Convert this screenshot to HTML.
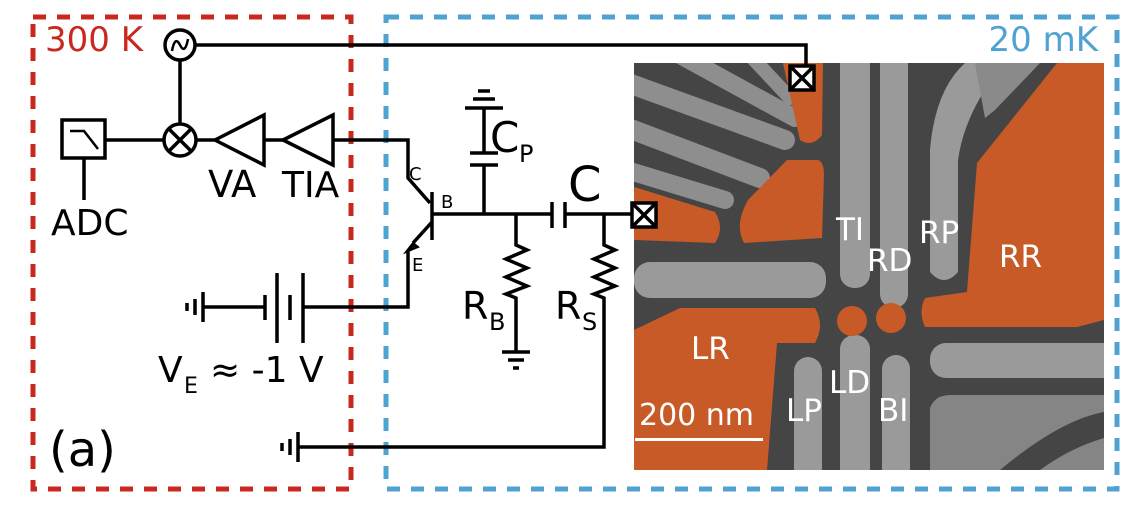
<!DOCTYPE html>
<html><head><meta charset="utf-8"><style>
html,body{margin:0;padding:0;background:#fff;}
svg{display:block;font-family:"DejaVu Sans","Liberation Sans",sans-serif;}
</style></head><body>
<svg width="1144" height="516" viewBox="0 0 1144 516" xmlns="http://www.w3.org/2000/svg">
<defs><clipPath id="sem"><rect x="634" y="63" width="470" height="407"/></clipPath></defs>
<g clip-path="url(#sem)">
<rect x="634" y="63" width="470" height="407" fill="#454545"/>
<g stroke="#8e8e8e" stroke-linecap="round" fill="none">
<path d="M620 80 L785 140" stroke-width="20"/>
<path d="M620 125 L760 178" stroke-width="20"/>
<path d="M620 168 L725 200" stroke-width="18"/>
<path d="M680 55 L795 118" stroke-width="18"/>
<path d="M745 50 L790 98" stroke-width="14"/>
</g>
<rect x="634" y="262" width="192" height="36" rx="16" fill="#9a9a9a"/>
<rect x="840" y="40" width="30" height="248" rx="14" fill="#9a9a9a"/>
<rect x="880" y="40" width="28" height="268" rx="14" fill="#9a9a9a"/>
<path d="M930 272 L930 150 Q935 90 965 63 L1005 63 Q965 110 958 160 L958 272 Q944 288 930 272 Z" fill="#9a9a9a"/>
<path d="M975 63 L1040 63 L995 110 L985 118 Z" fill="#8a8a8a"/>
<rect x="840" y="335" width="30" height="160" rx="14" fill="#9a9a9a"/>
<rect x="882" y="355" width="28" height="140" rx="14" fill="#9a9a9a"/>
<rect x="794" y="357" width="28" height="138" rx="14" fill="#9a9a9a"/>
<rect x="930" y="343" width="190" height="35" rx="16" fill="#9a9a9a"/>
<path d="M930 470 L930 408 Q935 395 950 395 L1104 395 L1104 470 Z" fill="#858585"/>
<path d="M1000 470 Q1060 420 1104 412 L1104 438 Q1070 448 1040 470 Z" fill="#454545"/>
<g fill="#c85a28">
<path d="M634 330 L680 308 L815 308 Q825 325 815 343 L777 343 L767 470 L634 470 Z"/>
<path d="M1057 63 L1104 63 L1104 320 L1077 327 L925 327 Q918 312 925 298 L967 292 L977 163 Z"/>
<path d="M748 200 L787 160 L818 160 Q824 162 824 175 L822 238 L744 243 Q734 225 748 200 Z"/>
<path d="M634 187 L715 212 Q725 228 715 243 L634 240 Z"/>
<path d="M783 63 L823 63 L822 135 Q812 148 800 140 Z"/>
<circle cx="852" cy="321" r="15"/>
<circle cx="891" cy="318" r="15"/>
</g>
</g>
<g fill="#fff" font-size="31">
<text x="836" y="240">TI</text>
<text x="867" y="271">RD</text>
<text x="919" y="243">RP</text>
<text x="999" y="267">RR</text>
<text x="691" y="359">LR</text>
<text x="829" y="393">LD</text>
<text x="786" y="421">LP</text>
<text x="878" y="421">BI</text>
<text x="639" y="425" font-size="30">200 nm</text>
</g>
<rect x="635" y="438" width="128" height="3" fill="#fff"/>

<rect x="33" y="17" width="318" height="472" fill="none" stroke="#c8281e" stroke-width="5" stroke-dasharray="13,11"/>
<rect x="386" y="17" width="731" height="472" fill="none" stroke="#4fa3d2" stroke-width="5" stroke-dasharray="13,11"/>
<text x="45" y="51" font-size="34" fill="#c8281e">300 K</text>
<text x="1098" y="51" font-size="34" fill="#4fa3d2" text-anchor="end">20 mK</text>

<g stroke="#000" stroke-width="3.5" fill="none">
<circle cx="180" cy="45" r="15"/>
<path d="M172 51 Q175 35 180 45 Q185 55 188 39" stroke-width="2.5"/>
<path d="M195 45 H806 V66"/>
<rect x="790" y="66" width="24" height="24" fill="#fff"/>
<path d="M790 66 L814 90 M814 66 L790 90"/>
<path d="M180 60 V124"/>
<circle cx="180" cy="140" r="16"/>
<path d="M169 129 L191 151 M191 129 L169 151"/>
<rect x="62" y="120" width="43" height="38"/>
<path d="M70 131 H84 L98 149" stroke-width="2.5"/>
<path d="M105 140 H164 M84 158 V200"/>
<path d="M196 140 H215"/>
<path d="M215 140 L264 115 V165 Z"/>
<path d="M264 140 H283"/>
<path d="M283 140 L333 115 V165 Z"/>
<path d="M333 140 H408 V178 L430 203"/>
<path d="M432 192 V240"/>
<path d="M432 214 H552"/>
<path d="M432 222 L413 243"/>
<path d="M408 250 V307 H303"/>
<path d="M265 295 V320 M277 273 V343 M290 295 V320 M303 273 V343"/>
<path d="M265 307 H203"/>
<path d="M203 292 V322 M195 299 V315 M187 303 V311"/>
<path d="M484 214 V165 M470 165 H498 M470 153 H498 M484 153 V108 M465 108 H503 M473 99 H495 M478 91 H490"/>
<path d="M516 214 V245 L527 250 L506 259 L527 268 L506 277 L527 286 L506 294 L516 298 V352 M502 352 H530 M508 360 H524 M513 368 H519"/>
<path d="M552 202 V228 M565 202 V228 M565 214 H632"/>
<rect x="632" y="203" width="24" height="24" fill="#fff"/>
<path d="M632 203 L656 227 M656 203 L632 227"/>
<path d="M604 214 V245 L615 250 L594 259 L615 268 L594 277 L615 286 L594 294 L604 298 V447 H298"/>
<path d="M298 432 V462 M290 439 V455 M282 443 V451"/>
</g>
<path d="M413 243 L406 252 L418 247 Z" fill="#000" stroke="#000" stroke-width="2"/>

<g fill="#000">
<text x="51" y="235" font-size="36">ADC</text>
<text x="208" y="197" font-size="37">VA</text>
<text x="282" y="197" font-size="36">TIA</text>
<text x="409" y="180" font-size="18">C</text>
<text x="441" y="208" font-size="18">B</text>
<text x="412" y="271" font-size="18">E</text>
<text x="490" y="152" font-size="42">C</text><text x="519" y="162" font-size="24">P</text>
<text x="568" y="201" font-size="48">C</text>
<text x="462" y="319" font-size="38">R</text><text x="489" y="330" font-size="24">B</text>
<text x="555" y="319" font-size="38">R</text><text x="582" y="330" font-size="24">S</text>
<text x="158" y="382" font-size="36">V</text><text x="184" y="393" font-size="22">E</text>
<text x="210" y="382" font-size="36">≈ -1 V</text>
<text x="49" y="466" font-size="48">(a)</text>
</g>
</svg>
</body></html>
